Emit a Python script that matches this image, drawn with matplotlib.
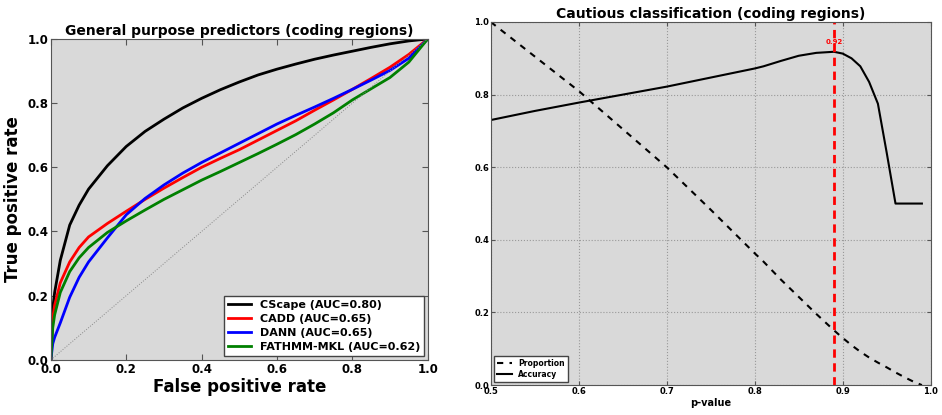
import numpy as np
import matplotlib
matplotlib.use("Agg")
import matplotlib.pyplot as plt

# ---- ROC data ----
fpr_pts = [0.0, 0.005, 0.01, 0.025, 0.05, 0.075, 0.1, 0.15, 0.2, 0.25, 0.3, 0.35, 0.4, 0.45, 0.5,
           0.55, 0.6, 0.65, 0.7, 0.75, 0.8, 0.85, 0.9, 0.95, 1.0]
cscape_tpr = [0.0, 0.16, 0.21, 0.31, 0.42, 0.482, 0.532, 0.605, 0.665, 0.712, 0.75, 0.785, 0.815, 0.842, 0.866,
              0.888, 0.906, 0.922, 0.937, 0.950, 0.962, 0.974, 0.985, 0.994, 1.0]
cadd_tpr = [0.0, 0.13, 0.17, 0.24, 0.305, 0.35, 0.383, 0.425, 0.463, 0.50, 0.535, 0.568, 0.60, 0.628, 0.655,
            0.685, 0.715, 0.745, 0.778, 0.81, 0.843, 0.877, 0.912, 0.952, 1.0]
dann_tpr = [0.0, 0.05, 0.07, 0.115, 0.195, 0.257, 0.305, 0.38, 0.452, 0.503, 0.545, 0.582, 0.615, 0.645, 0.675,
            0.705, 0.735, 0.762, 0.788, 0.815, 0.843, 0.872, 0.902, 0.94, 1.0]
fathmm_tpr = [0.0, 0.10, 0.14, 0.21, 0.275, 0.318, 0.35, 0.397, 0.433, 0.467, 0.50, 0.53, 0.56, 0.587, 0.615,
              0.643, 0.672, 0.702, 0.735, 0.77, 0.81, 0.845, 0.88, 0.928, 1.0]
roc_labels = ["CScape (AUC=0.80)", "CADD (AUC=0.65)", "DANN (AUC=0.65)", "FATHMM-MKL (AUC=0.62)"]
roc_colors = ["black", "red", "blue", "green"]

# ---- Cautious classification data ----
pval = [0.5, 0.55, 0.6, 0.65, 0.7, 0.75, 0.8, 0.81, 0.83, 0.85, 0.87, 0.89, 0.9, 0.91, 0.92, 0.93, 0.94,
        0.95, 0.96, 0.97, 0.98, 0.99]
accuracy = [0.73, 0.755, 0.778, 0.80, 0.822, 0.847, 0.872, 0.878, 0.893, 0.907, 0.915, 0.918, 0.913, 0.90,
            0.878, 0.835, 0.775, 0.64, 0.50, 0.50, 0.50, 0.50]
proportion = [1.0, 0.905, 0.81, 0.705, 0.60, 0.483, 0.363, 0.34, 0.29, 0.243, 0.196, 0.151, 0.13, 0.11,
              0.092, 0.076, 0.062, 0.049, 0.035, 0.022, 0.01, 0.0]
best_p = 0.89
best_acc_label = "0.92"

fig = plt.figure(figsize=(9.42, 4.15), dpi=100)
face = "#d9d9d9"

# ---- Left panel ----
ax1 = fig.add_axes([0.054, 0.133, 0.400, 0.773])
ax1.set_facecolor(face)
for tpr, lab, col in zip([cscape_tpr, cadd_tpr, dann_tpr, fathmm_tpr], roc_labels, roc_colors):
    ax1.plot(fpr_pts, tpr, color=col, lw=2.0, label=lab)
ax1.plot([0, 1], [0, 1], color="#888888", lw=0.7, ls=":")
ax1.set_xlim(0, 1)
ax1.set_ylim(0, 1)
ticks = np.arange(0, 1.01, 0.2)
ax1.set_xticks(ticks)
ax1.set_yticks(ticks)
ax1.set_xticklabels([f"{v:.1f}" for v in ticks], fontweight="bold", fontsize=8.5)
ax1.set_yticklabels([f"{v:.1f}" for v in ticks], fontweight="bold", fontsize=8.5)
ax1.tick_params(direction="in", top=True, right=True, length=4, color="#555555", pad=2)
ax1.set_xlabel("False positive rate", fontweight="bold", fontsize=12, labelpad=2)
ax1.set_ylabel("True positive rate", fontweight="bold", fontsize=12, labelpad=4)
ax1.set_title("General purpose predictors (coding regions)", fontweight="bold", fontsize=10, pad=3)
leg = ax1.legend(loc="lower right", prop={"weight": "bold", "size": 8}, fancybox=False,
                 handlelength=2.0, borderaxespad=0.3, labelspacing=0.35, framealpha=1)
leg.get_frame().set_edgecolor("#444444")
for s in ax1.spines.values():
    s.set_color("#555555")

# ---- Right panel ----
ax2 = fig.add_axes([0.521, 0.072, 0.467, 0.875])
ax2.set_facecolor(face)
ax2.plot(pval, proportion, color="black", lw=1.5, ls=(0, (3, 3)), label="Proportion")
ax2.plot(pval, accuracy, color="black", lw=1.5, label="Accuracy")
ax2.axvline(best_p, color="red", lw=2, ls=(0, (3, 2)))
ax2.text(best_p, 0.945, best_acc_label, color="red", fontsize=5, fontweight="bold", ha="center", va="center")
ax2.set_xlim(0.5, 1.0)
ax2.set_ylim(0, 1)
xt = np.arange(0.5, 1.001, 0.1)
yt = np.arange(0, 1.001, 0.2)
ax2.set_xticks(xt)
ax2.set_yticks(yt)
ax2.set_xticklabels([f"{v:.1f}" for v in xt], fontweight="bold", fontsize=6)
ax2.set_yticklabels([f"{v:.1f}" for v in yt], fontweight="bold", fontsize=6)
ax2.tick_params(direction="in", top=True, right=True, length=3, color="#555555", pad=1)
ax2.grid(True, color="#999999", ls=":", lw=0.8)
ax2.set_axisbelow(True)
ax2.set_xlabel("p-value", fontweight="bold", fontsize=7, labelpad=2)
ax2.set_title("Cautious classification (coding regions)", fontweight="bold", fontsize=10, pad=3)
leg2 = ax2.legend(loc="lower left", prop={"weight": "bold", "size": 5.5}, fancybox=False,
                  handlelength=2.0, borderaxespad=0.4, labelspacing=0.3, framealpha=1)
leg2.get_frame().set_edgecolor("#444444")
for s in ax2.spines.values():
    s.set_color("#555555")

fig.savefig("out.png", dpi=100)
